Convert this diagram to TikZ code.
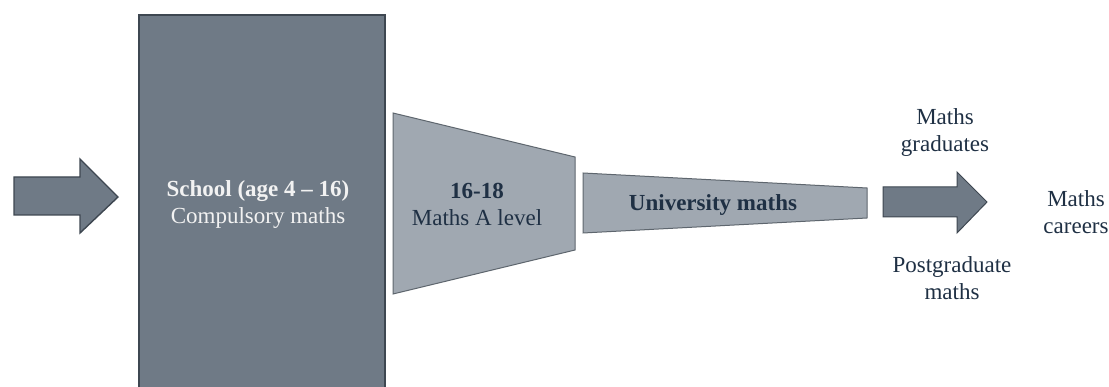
\documentclass[tikz,border=0pt]{standalone}
\usepackage{fontspec}
\setmainfont{Liberation Serif}
\definecolor{darkfill}{HTML}{6F7A86}
\definecolor{darkline}{HTML}{3E4751}
\definecolor{lightfill}{HTML}{A0A8B1}
\definecolor{lightline}{HTML}{5E666E}
\definecolor{txt}{HTML}{1F3044}
\definecolor{wtxt}{HTML}{F2F2F2}
\begin{document}
\begin{tikzpicture}[x=1pt,y=-1pt,
  darkshape/.style={fill=darkfill,draw=darkline,line width=1.4pt,line join=miter},
  lightshape/.style={fill=lightfill,draw=lightline,line width=1pt},
  lbl/.style={font=\fontsize{23}{27}\selectfont,text=txt,align=center,inner sep=0pt},
  wlbl/.style={lbl,text=wtxt}]
\clip (0,0) rectangle (1109,387);
\fill[white] (0,0) rectangle (1109,387);
% input arrow
\draw[darkshape] (14,177) -- (80,177) -- (80,159) -- (118,197) -- (80,233) -- (80,215) -- (14,215) -- cycle;
% school box
\draw[darkshape] (139,15) rectangle (385,395);
% A level trapezoid
\draw[lightshape] (393,113) -- (575,157) -- (575,250) -- (393,294) -- cycle;
% university trapezoid
\draw[lightshape] (583,173) -- (867,188) -- (867,218) -- (583,233) -- cycle;
% output arrow
\draw[darkshape,line width=1pt] (883,187) -- (957,187) -- (957,172) -- (987,202) -- (957,233) -- (957,217) -- (883,217) -- cycle;
% labels
\node[wlbl] (school) at (258,205) {\textbf{School (age 4 -- 16)}\\Compulsory maths};
\node[lbl] (alevel) at (477,204) {\textbf{16-18}\\Maths A level};
\node[lbl] (uni) at (713,205) {\textbf{University maths}};
\node[lbl] (grad) at (945,133) {Maths\\graduates};
\node[lbl] (post) at (952,278) {Postgraduate\\maths};
\node[lbl] (careers) at (1076,212) {Maths\\careers};
\end{tikzpicture}
\end{document}
